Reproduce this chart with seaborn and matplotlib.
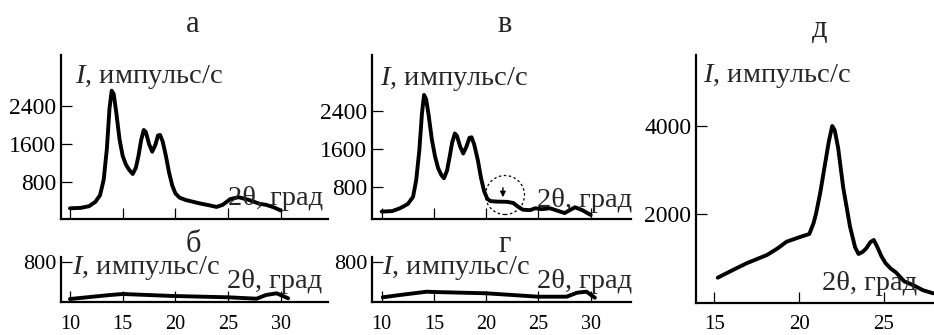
import matplotlib
matplotlib.use("Agg")
import matplotlib.pyplot as plt
from matplotlib.patches import Ellipse
import seaborn as sns
import pandas as pd

# ---------------- data ----------------
a_x = [10, 11, 11.8, 12.4, 12.85, 13.2, 13.5, 13.75, 13.96, 14.15, 14.4, 14.7,
       15.0, 15.3, 15.6, 15.95, 16.25, 16.5, 16.75, 17.0, 17.2, 17.5, 17.8, 18.1,
       18.35, 18.55, 18.8, 19.1, 19.4, 19.7, 20.0, 20.4, 21.0, 22.3, 23.2, 23.9,
       24.5, 25.2, 26.0, 27.0, 28.0, 28.6, 29.3, 30.0]
a_y = [246, 255, 290, 380, 520, 850, 1500, 2350, 2723, 2650, 2250, 1700,
       1350, 1170, 1060, 968, 1100, 1350, 1680, 1895, 1850, 1600, 1438, 1580,
       1780, 1790, 1650, 1350, 1000, 730, 560, 470, 420, 350, 310, 275,
       320, 440, 480, 420, 340, 320, 270, 200]

v_x = [10, 11, 11.75, 12.5, 13.0, 13.3, 13.6, 13.85, 14.05, 14.25, 14.5, 14.8,
       15.1, 15.4, 15.7, 15.96, 16.25, 16.5, 16.75, 17.0, 17.2, 17.5, 17.8, 18.1,
       18.4, 18.6, 18.85, 19.2, 19.5, 19.8, 20.1, 20.4, 21.0, 22.0, 22.6, 23.0,
       23.5, 24.2, 24.7, 25.3, 26.1, 26.8, 27.5, 28.5, 29.2, 30.0]
v_y = [290, 300, 360, 450, 600, 950, 1580, 2350, 2740, 2650, 2300, 1800,
       1450, 1200, 1060, 990, 1150, 1440, 1750, 1930, 1880, 1660, 1510, 1650,
       1840, 1850, 1700, 1370, 1000, 720, 560, 510, 500, 495, 470, 400,
       330, 320, 360, 340, 360, 310, 260, 380, 320, 220]

d_x = [15.2, 16.0, 16.9, 18.1, 18.7, 19.26, 20.0, 20.6, 20.85, 21.0, 21.25, 21.5,
       21.75, 21.95, 22.1, 22.3, 22.6, 23.0, 23.3, 23.5, 23.75, 23.96, 24.2, 24.4,
       24.6, 24.85, 25.1, 25.4, 25.7, 26.2, 26.8, 27.3, 27.9]
d_y = [564, 720, 890, 1078, 1220, 1379, 1479, 1554, 1800, 2022, 2500, 3078,
       3650, 4000, 3900, 3500, 2600, 1719, 1250, 1101, 1150, 1230, 1370, 1418,
       1266, 1050, 890, 770, 686, 480, 380, 280, 210]

b_x = [10, 13.8, 15, 19.8, 25, 27.7, 28.6, 29.6, 30.7]
b_y = [54, 134, 154, 114, 88, 60, 134, 168, 68]

g_x = [10.1, 11.75, 14.3, 15, 20, 25, 27.7, 28.7, 29.6, 30.4]
g_y = [88, 134, 200, 194, 168, 100, 100, 180, 200, 80]

xticks_small = [10, 15, 20, 25, 30]
yticks_ab = [800, 1600, 2400]
yticks_d = [2000, 4000]
yticks_small = [800]
xticks_d = [15, 20, 25]

titles = ["а", "б", "в", "г", "д"]
ylabel_text = r"$\mathit{I}$, импульс/с"
xlabel_text = "2θ, град"

# ---------------- style ----------------
sns.set_style("ticks")
plt.rcParams["font.family"] = ["Liberation Serif", "DejaVu Serif"]
plt.rcParams["mathtext.fontset"] = "custom"
plt.rcParams["mathtext.it"] = "Liberation Serif:italic"
plt.rcParams["mathtext.rm"] = "Liberation Serif"

W, H = 934, 335
fig = plt.figure(figsize=(W / 100, H / 100), dpi=100)
fig.patch.set_facecolor("white")


def rect(left, right, bottom, top):
    return [left / W, 1 - bottom / H, (right - left) / W, (bottom - top) / H]


def pt(x, y):
    return x / W, 1 - y / H


LW = 2.8
CAP_FS = 20.5
TITLE_FS = 22


def style(ax, xlim, ylim, xticks, yticks, xlabels, xpad, xfs, yfs):
    ax.set_xlim(*xlim)
    ax.set_ylim(*ylim)
    for s in ["top", "right"]:
        ax.spines[s].set_visible(False)
    for s in ["left", "bottom"]:
        ax.spines[s].set_linewidth(1.6)
        ax.spines[s].set_color("black")
    ax.set_xticks(xticks)
    ax.set_yticks(yticks)
    ax.tick_params(axis="both", direction="in", length=8, width=0.9,
                   colors="black")
    ax.tick_params(axis="y", pad=3, labelsize=yfs)
    ax.tick_params(axis="x", pad=xpad, labelbottom=xlabels, labelsize=xfs)
    ax.set_xlabel("")
    ax.set_ylabel("")
    ax.patch.set_alpha(0)


def draw(ax, xs, ys):
    df = pd.DataFrame({"x": xs, "y": ys})
    sns.lineplot(data=df, x="x", y="y", sort=False, color="black",
                 linewidth=LW, ax=ax, legend=False)
    ax.lines[-1].set_solid_joinstyle("round")
    ax.lines[-1].set_solid_capstyle("round")


# panel а
ax_a = fig.add_axes(rect(60.7, 328, 218.5, 55))
draw(ax_a, a_x, a_y)
style(ax_a, (9.12, 34.48), (31.6, 3474), xticks_small, yticks_ab, False, 8, 14, 17)

# panel в
ax_v = fig.add_axes(rect(371.7, 631, 218.5, 55))
draw(ax_v, v_x, v_y)
style(ax_v, (9.04, 33.86), (145, 3578), xticks_small, yticks_ab, False, 8, 14, 17)
ax_v.add_patch(Ellipse((21.8, 638), 3.73, 819, fill=False, linestyle=(0, (2, 2)),
                       linewidth=0.9, edgecolor="black"))
ax_v.annotate("", xy=(21.6, 533), xytext=(21.6, 848),
              arrowprops=dict(arrowstyle="-|>", color="black", lw=1.0,
                              mutation_scale=8))

# panel д
ax_d = fig.add_axes(rect(695.5, 934, 303.3, 55))
draw(ax_d, d_x, d_y)
style(ax_d, (13.89, 27.95), (-16, 5608), xticks_d, yticks_d, True, 8.5, 15, 17)

# panel б
ax_b = fig.add_axes(rect(60.7, 328, 301.7, 257.3))
draw(ax_b, b_x, b_y)
style(ax_b, (9.12, 34.48), (0, 888), xticks_small, yticks_small, True, 9.5, 14.5, 16)

# panel г
ax_g = fig.add_axes(rect(371.7, 631, 301.7, 257.3))
draw(ax_g, g_x, g_y)
style(ax_g, (9.04, 33.86), (0, 888), xticks_small, yticks_small, True, 9.5, 14.5, 16)

# titles
for t, (x, y) in zip(titles, [(193, 32.3), (193, 252), (505, 31.7), (505, 252), (820, 36.7)]):
    fig.text(*pt(x, y), t, ha="center", va="baseline", fontsize=TITLE_FS)

# axis captions
for (x, y) in [(75, 83.3), (380, 85), (703, 81.7), (72, 273.5), (382, 273.5)]:
    fig.text(*pt(x, y), ylabel_text, ha="left", va="baseline", fontsize=CAP_FS)
for (x, y) in [(228, 205), (537, 207), (822, 290), (227, 288), (537, 288)]:
    fig.text(*pt(x, y), xlabel_text, ha="left", va="baseline", fontsize=CAP_FS)

fig.savefig("out.png", dpi=100, facecolor="white")
